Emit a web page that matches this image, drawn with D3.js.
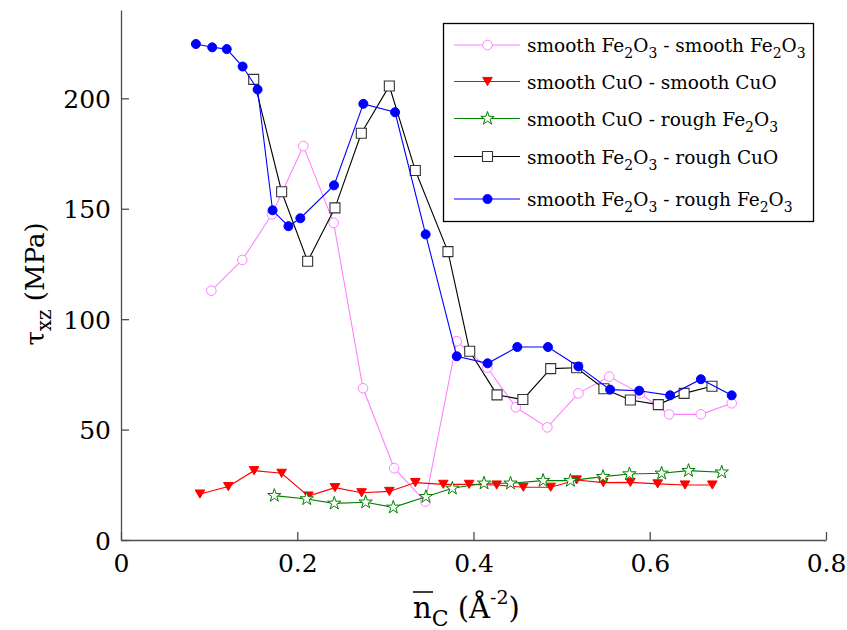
<!DOCTYPE html>
<html>
<head>
<meta charset="utf-8">
<script src="https://cdn.jsdelivr.net/npm/d3@7"></script>
<style>
  html, body { margin: 0; padding: 0; background: #fff; }
  svg { display: block; }
</style>
</head>
<body>
<svg id="chart" width="847" height="630"></svg>
<script>
// ---------- data ----------
const seriesNames = [
  ["smooth Fe", "2", "O", "3", " - smooth Fe", "2", "O", "3"],
  ["smooth CuO - smooth CuO"],
  ["smooth CuO - rough Fe", "2", "O", "3"],
  ["smooth Fe", "2", "O", "3", " - rough CuO"],
  ["smooth Fe", "2", "O", "3", " - rough Fe", "2", "O", "3"]
];

const pinkX = [0.1025,0.1376,0.1713,0.2069,0.2413,0.2746,0.310,0.3453,0.381,0.4157,0.448,0.4838,0.519,0.554,0.589,0.622,0.658,0.693];
const pinkY = [112.9,126.8,147.5,178.4,143.6,68.7,32.5,17.4,90.0,78.0,60.1,51.0,66.4,74.0,66.4,56.9,56.9,61.9];

const redX = [0.0896,0.1218,0.151,0.1823,0.2126,0.2428,0.273,0.3045,0.334,0.3657,0.395,0.4263,0.4565,0.4876,0.517,0.5473,0.578,0.609,0.640,0.671];
const redY = [20.8,24.2,31.4,30.2,19.9,23.7,21.4,22.0,26.0,25.2,25.2,24.9,23.9,23.9,27.2,26.0,26.1,25.4,24.9,24.9];

const greenX = [0.174,0.2107,0.242,0.2776,0.309,0.346,0.376,0.412,0.442,0.479,0.510,0.547,0.577,0.6135,0.644,0.6817];
const greenY = [20.1,18.6,16.6,17.1,14.8,19.6,23.4,25.7,25.7,26.9,26.9,28.7,29.9,30.2,31.4,30.7];

const blackX = [0.1506,0.1823,0.2118,0.2428,0.2727,0.3045,0.334,0.371,0.3957,0.4267,0.456,0.4876,0.517,0.548,0.578,0.6097,0.639,0.6706];
const blackY = [208.6,157.7,126.2,150.4,184.2,205.6,167.3,130.6,85.5,65.7,63.6,77.6,78.0,68.5,63.4,61.3,66.4,69.6];

const blueX = [0.085,0.1035,0.120,0.138,0.155,0.172,0.190,0.2035,0.2417,0.275,0.311,0.3457,0.381,0.416,0.4497,0.4845,0.519,0.555,0.588,0.623,0.658,0.693];
const blueY = [224.6,223.1,222.3,214.4,204,149.3,142.1,145.7,160.6,197.5,193.7,138.4,83.2,80.0,87.4,87.4,78.6,68.1,67.6,65.5,72.8,65.5];

const xTicks = [0, 0.2, 0.4, 0.6, 0.8];
const xTickLabels = ["0", "0.2", "0.4", "0.6", "0.8"];
const yTicks = [0, 50, 100, 150, 200];
const yTickLabels = ["0", "50", "100", "150", "200"];

// ---------- layout ----------
const FONT = "'DejaVu Serif', serif";
const svg = d3.select("#chart").style("font-family", FONT);
const X0 = 121, X1 = 826, Y0 = 540, Y1 = 10;
const x = d3.scaleLinear().domain([0, 0.8]).range([X0, X1]);
const y = d3.scaleLinear().domain([0, 240]).range([Y0, Y1]);

const axisColor = "#4d4d4d";

function triDown(s) {
  return `M${-s},${-s*0.85}L${s},${-s*0.85}L0,${s*0.85}Z`;
}
function star(R) {
  const r = R * 0.382; let p = "";
  for (let i = 0; i < 10; i++) {
    const rad = i % 2 === 0 ? R : r;
    const a = -Math.PI / 2 + i * Math.PI / 5;
    p += (i === 0 ? "M" : "L") + (rad * Math.cos(a)).toFixed(2) + "," + (rad * Math.sin(a)).toFixed(2);
  }
  return p + "Z";
}
function square(h) { return `M${-h},${-h}H${h}V${h}H${-h}Z`; }

const series = [
  { xs: pinkX, ys: pinkY, color: "#ff80ff", marker: "circle" },
  { xs: redX, ys: redY, color: "#ff0000", marker: "tri" },
  { xs: greenX, ys: greenY, color: "#008000", marker: "star" },
  { xs: blackX, ys: blackY, color: "#000000", marker: "square" },
  { xs: blueX, ys: blueY, color: "#0000ff", marker: "dot" }
];

function drawMarker(g, type, color, cx, cy) {
  if (type === "circle") {
    g.append("circle").attr("cx", cx).attr("cy", cy).attr("r", 4.8)
      .attr("fill", "#fff").attr("stroke", color).attr("stroke-width", 1);
  } else if (type === "dot") {
    g.append("circle").attr("cx", cx).attr("cy", cy).attr("r", 4.5)
      .attr("fill", color).attr("stroke", color).attr("stroke-width", 1);
  } else if (type === "tri") {
    g.append("path").attr("d", triDown(4.8)).attr("transform", `translate(${cx},${cy})`)
      .attr("fill", color).attr("stroke", color).attr("stroke-width", 1);
  } else if (type === "star") {
    g.append("path").attr("d", star(7)).attr("transform", `translate(${cx},${cy})`)
      .attr("fill", "#fff").attr("stroke", color).attr("stroke-width", 1);
  } else if (type === "square") {
    g.append("path").attr("d", square(5)).attr("transform", `translate(${cx},${cy})`)
      .attr("fill", "#fff").attr("stroke", "#333").attr("stroke-width", 1.1);
  }
}

// ---------- axes ----------
const xAxis = d3.axisBottom(x).tickValues(xTicks).tickFormat((d, i) => xTickLabels[i]).tickSizeInner(-8).tickSizeOuter(0).tickPadding(16);
const yAxis = d3.axisLeft(y).tickValues(yTicks).tickFormat((d, i) => yTickLabels[i]).tickSizeInner(-8).tickSizeOuter(0).tickPadding(18);

const gx = svg.append("g").attr("transform", `translate(0,${Y0})`).call(xAxis);
const gy = svg.append("g").attr("transform", `translate(${X0},0)`).call(yAxis);
[gx, gy].forEach(g => {
  g.attr("font-family", null).style("font-family", FONT);
  g.select(".domain").attr("stroke", axisColor).attr("stroke-width", 1.3);
  g.selectAll(".tick line").attr("stroke", axisColor).attr("stroke-width", 1.3);
  g.selectAll(".tick text").style("font-family", FONT).attr("font-size", 25).attr("fill", "#000");
});
gx.selectAll(".tick text").attr("dy", "0.62em");
gy.selectAll(".tick text").attr("x", -10).attr("dy", "0.36em");

// ---------- series ----------
series.forEach(s => {
  const pts = s.xs.map((v, i) => [x(v), y(s.ys[i])]);
  const g = svg.append("g");
  g.append("path").attr("d", d3.line()(pts)).attr("fill", "none")
    .attr("stroke", s.color).attr("stroke-width", 1.1);
  pts.forEach(p => drawMarker(g, s.marker, s.color, p[0], p[1]));
});

// ---------- legend ----------
const lg = svg.append("g");
lg.append("rect").attr("x", 443.5).attr("y", 23.5).attr("width", 370).attr("height", 198)
  .attr("fill", "#fff").attr("stroke", "#000").attr("stroke-width", 1.3);
const rowY = [45, 81.5, 118.5, 156.5, 199];
series.forEach((s, i) => {
  const yy = rowY[i];
  lg.append("line").attr("x1", 454).attr("x2", 520).attr("y1", yy).attr("y2", yy)
    .attr("stroke", s.color).attr("stroke-width", 1.1);
  drawMarker(lg, s.marker, s.color, 487.5, yy);
  const t = lg.append("text").attr("x", 527).attr("y", yy + 7).attr("font-size", 18.5)
    .style("font-family", FONT).attr("fill", "#000");
  seriesNames[i].forEach((part, k) => {
    const isSub = /^[0-9]$/.test(part);
    t.append("tspan").text(part)
      .attr("font-size", isSub ? 14 : 18.5)
      .attr("dy", isSub ? 6 : (k > 0 && /^[0-9]$/.test(seriesNames[i][k - 1]) ? -6 : 0));
  });
});

// ---------- axis labels ----------
const xl = svg.append("text").attr("x", 413).attr("y", 618).attr("font-size", 29)
  .style("font-family", FONT).attr("fill", "#000");
xl.append("tspan").text("n");
xl.append("tspan").text("C").attr("font-size", 22).attr("dy", 8);
xl.append("tspan").text(" (Å").attr("dy", -8);
xl.append("tspan").text("-2").attr("font-size", 19).attr("dy", -14);
xl.append("tspan").text(")").attr("dy", 14);
svg.append("line").attr("x1", 413).attr("x2", 433).attr("y1", 592).attr("y2", 592)
  .attr("stroke", "#000").attr("stroke-width", 1.5);

const yl = svg.append("text").attr("transform", "translate(44,284) rotate(-90)")
  .attr("text-anchor", "middle").attr("font-size", 26)
  .style("font-family", FONT).attr("fill", "#000");
yl.append("tspan").text("τ");
yl.append("tspan").text("xz").attr("font-size", 20).attr("dy", 7);
yl.append("tspan").text(" (MPa)").attr("dy", -7);
</script>
</body>
</html>
